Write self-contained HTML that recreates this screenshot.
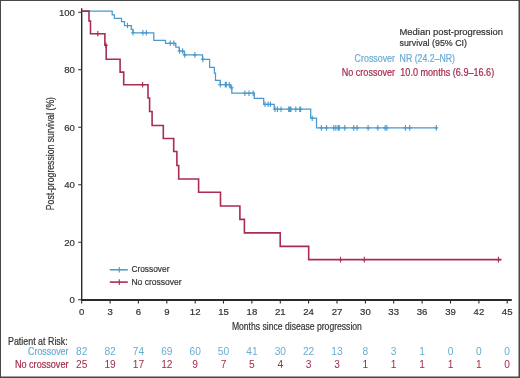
<!DOCTYPE html>
<html><head><meta charset="utf-8"><style>
html,body{margin:0;padding:0;background:#fff;overflow:hidden;width:520px;height:378px;}
svg{display:block;font-family:"Liberation Sans", sans-serif;will-change:transform;}
</style></head><body>
<svg width="520" height="378" viewBox="0 0 520 378" font-family='"Liberation Sans", sans-serif'>
<rect x="0" y="0" width="520" height="378" fill="#fff"/>
<path d="M81.7,8.2 V300.6" stroke="#2b2b2b" stroke-width="1.4" fill="none"/>
<path d="M81.0,300 H511.8" stroke="#2a2a2a" stroke-width="1.8" fill="none"/>
<path d="M78.2,299.8H81.7M78.2,242.3H81.7M78.2,184.8H81.7M78.2,127.3H81.7M78.2,69.8H81.7M78.2,12.3H81.7" stroke="#2b2b2b" stroke-width="1.1" fill="none"/>
<path d="M81.7,300V303.5M110.1,300V303.5M138.4,300V303.5M166.8,300V303.5M195.2,300V303.5M223.5,300V303.5M251.9,300V303.5M280.3,300V303.5M308.6,300V303.5M337.0,300V303.5M365.4,300V303.5M393.7,300V303.5M422.1,300V303.5M450.5,300V303.5M478.9,300V303.5M507.2,300V303.5" stroke="#2b2b2b" stroke-width="1.1" fill="none"/>
<text x="74.9" y="303.1" text-anchor="end" font-size="9.6" fill="#333333" stroke="#333333" stroke-width="0.2">0</text>
<text x="74.9" y="245.6" text-anchor="end" font-size="9.6" fill="#333333" stroke="#333333" stroke-width="0.2">20</text>
<text x="74.9" y="188.1" text-anchor="end" font-size="9.6" fill="#333333" stroke="#333333" stroke-width="0.2">40</text>
<text x="74.9" y="130.6" text-anchor="end" font-size="9.6" fill="#333333" stroke="#333333" stroke-width="0.2">60</text>
<text x="74.9" y="73.1" text-anchor="end" font-size="9.6" fill="#333333" stroke="#333333" stroke-width="0.2">80</text>
<text x="74.9" y="15.6" text-anchor="end" font-size="9.6" fill="#333333" stroke="#333333" stroke-width="0.2">100</text>
<text x="81.7" y="315.0" text-anchor="middle" font-size="9.6" fill="#333333" stroke="#333333" stroke-width="0.2">0</text>
<text x="110.1" y="315.0" text-anchor="middle" font-size="9.6" fill="#333333" stroke="#333333" stroke-width="0.2">3</text>
<text x="138.4" y="315.0" text-anchor="middle" font-size="9.6" fill="#333333" stroke="#333333" stroke-width="0.2">6</text>
<text x="166.8" y="315.0" text-anchor="middle" font-size="9.6" fill="#333333" stroke="#333333" stroke-width="0.2">9</text>
<text x="195.2" y="315.0" text-anchor="middle" font-size="9.6" fill="#333333" stroke="#333333" stroke-width="0.2">12</text>
<text x="223.5" y="315.0" text-anchor="middle" font-size="9.6" fill="#333333" stroke="#333333" stroke-width="0.2">15</text>
<text x="251.9" y="315.0" text-anchor="middle" font-size="9.6" fill="#333333" stroke="#333333" stroke-width="0.2">18</text>
<text x="280.3" y="315.0" text-anchor="middle" font-size="9.6" fill="#333333" stroke="#333333" stroke-width="0.2">21</text>
<text x="308.6" y="315.0" text-anchor="middle" font-size="9.6" fill="#333333" stroke="#333333" stroke-width="0.2">24</text>
<text x="337.0" y="315.0" text-anchor="middle" font-size="9.6" fill="#333333" stroke="#333333" stroke-width="0.2">27</text>
<text x="365.4" y="315.0" text-anchor="middle" font-size="9.6" fill="#333333" stroke="#333333" stroke-width="0.2">30</text>
<text x="393.7" y="315.0" text-anchor="middle" font-size="9.6" fill="#333333" stroke="#333333" stroke-width="0.2">33</text>
<text x="422.1" y="315.0" text-anchor="middle" font-size="9.6" fill="#333333" stroke="#333333" stroke-width="0.2">36</text>
<text x="450.5" y="315.0" text-anchor="middle" font-size="9.6" fill="#333333" stroke="#333333" stroke-width="0.2">39</text>
<text x="478.9" y="315.0" text-anchor="middle" font-size="9.6" fill="#333333" stroke="#333333" stroke-width="0.2">42</text>
<text x="507.2" y="315.0" text-anchor="middle" font-size="9.6" fill="#333333" stroke="#333333" stroke-width="0.2">45</text>
<text x="231.9" y="330.1" font-size="10.5" fill="#333333" stroke="#333333" stroke-width="0.2" textLength="130" lengthAdjust="spacingAndGlyphs">Months since disease progression</text>
<text transform="translate(53.9,210.2) rotate(-90)" x="0" y="0" font-size="10" fill="#333333" stroke="#333333" stroke-width="0.2" textLength="113.2" lengthAdjust="spacingAndGlyphs">Post-progression survival (%)</text>
<path d="M81.7,11.1 H112.2 V14.9 H114.4 V18.3 H121.5 V21.7 H124.5 V25.5 H131.3 V29.3 H133 V32.8 H153.8 V40.3 H165.5 V43.3 H175.8 V47.1 H179.2 V51 H184.3 V54.9 H202.5 V59.4 H209.6 V67.4 H214.4 V73 H215.5 V80.4 H220.3 V84.6 H230.3 V87.8 H231.8 V93.2 H254.3 V98.4 H263.7 V104.3 H274.2 V109.2 H310.7 V118.2 H316.5 V127.9 H437" stroke="#4899cd" stroke-width="1.25" fill="none"/>
<path d="M127.5,22.7V28.3M125.5,25.5H129.5 M133.0,30.0V35.6M131.0,32.8H135.0 M142.9,30.0V35.6M140.9,32.8H144.9 M146.3,30.0V35.6M144.3,32.8H148.3 M170.2,40.5V46.1M168.2,43.3H172.2 M173.9,40.5V46.1M171.9,43.3H175.9 M179.5,48.2V53.8M177.5,51.0H181.5 M182.6,48.2V53.8M180.6,51.0H184.6 M184.7,52.1V57.7M182.7,54.9H186.7 M194.9,52.1V57.7M192.9,54.9H196.9 M202.9,56.6V62.2M200.9,59.4H204.9 M220.3,81.8V87.4M218.3,84.6H222.3 M225.3,81.8V87.4M223.3,84.6H227.3 M226.3,81.8V87.4M224.3,84.6H228.3 M229.3,81.8V87.4M227.3,84.6H231.3 M231.7,85.0V90.6M229.7,87.8H233.7 M244.9,90.4V96.0M242.9,93.2H246.9 M249.0,90.4V96.0M247.0,93.2H251.0 M253.2,90.4V96.0M251.2,93.2H255.2 M265.0,101.5V107.1M263.0,104.3H267.0 M268.1,101.5V107.1M266.1,104.3H270.1 M270.4,101.5V107.1M268.4,104.3H272.4 M275.0,106.4V112.0M273.0,109.2H277.0 M277.4,106.4V112.0M275.4,109.2H279.4 M281.0,106.4V112.0M279.0,109.2H283.0 M288.7,106.4V112.0M286.7,109.2H290.7 M289.8,106.4V112.0M287.8,109.2H291.8 M290.9,106.4V112.0M288.9,109.2H292.9 M295.8,106.4V112.0M293.8,109.2H297.8 M299.8,106.4V112.0M297.8,109.2H301.8 M300.6,106.4V112.0M298.6,109.2H302.6 M312.2,115.4V121.0M310.2,118.2H314.2 M321.3,125.1V130.7M319.3,127.9H323.3 M326.5,125.1V130.7M324.5,127.9H328.5 M333.8,125.1V130.7M331.8,127.9H335.8 M335.8,125.1V130.7M333.8,127.9H337.8 M338.1,125.1V130.7M336.1,127.9H340.1 M339.2,125.1V130.7M337.2,127.9H341.2 M344.8,125.1V130.7M342.8,127.9H346.8 M353.7,125.1V130.7M351.7,127.9H355.7 M357.1,125.1V130.7M355.1,127.9H359.1 M368.1,125.1V130.7M366.1,127.9H370.1 M377.8,125.1V130.7M375.8,127.9H379.8 M385.1,125.1V130.7M383.1,127.9H387.1 M386.8,125.1V130.7M384.8,127.9H388.8 M405.4,125.1V130.7M403.4,127.9H407.4 M409.7,125.1V130.7M407.7,127.9H411.7 M436.3,125.1V130.7M434.3,127.9H438.3" stroke="#4899cd" stroke-width="1.1" fill="none"/>
<path d="M81.7,11.1 H89 V21 H90.5 V33.8 H104.9 V45.2 H106.2 V59.2 H120.1 V72.1 H123.7 V84.7 H148 V98 H149.6 V111.5 H152.1 V125.5 H163.3 V138.5 H173.7 V151.5 H176.9 V165.5 H178.7 V179 H198.6 V192.2 H220.5 V206 H239.9 V219.4 H244.4 V232.9 H280.2 V246.4 H308.7 V259.6 H501.5" stroke="#a92d4f" stroke-width="1.6" fill="none"/>
<path d="M97.8,31.0V36.6M95.8,33.8H99.8 M105.9,42.4V48.0M103.9,45.2H107.9 M142.6,81.9V87.5M140.6,84.7H144.6 M340.5,256.8V262.4M338.5,259.6H342.5 M364.3,256.8V262.4M362.3,259.6H366.3 M498.5,256.8V262.4M496.5,259.6H500.5" stroke="#a92d4f" stroke-width="1.1" fill="none"/>
<path d="M109.8,269.8H127.8" stroke="#4899cd" stroke-width="1.5"/><path d="M119.3,267.0V272.6" stroke="#4899cd" stroke-width="1.1"/>
<path d="M109.8,282.1H127.8" stroke="#a92d4f" stroke-width="1.6"/><path d="M119.3,279.3V284.90000000000003" stroke="#a92d4f" stroke-width="1.1"/>
<text x="131.4" y="272.4" font-size="9.5" fill="#333333" stroke="#333333" stroke-width="0.2" textLength="38.1" lengthAdjust="spacingAndGlyphs">Crossover</text>
<text x="131.4" y="284.7" font-size="9.5" fill="#333333" stroke="#333333" stroke-width="0.2" textLength="50.3" lengthAdjust="spacingAndGlyphs">No crossover</text>
<text x="399.5" y="35.4" font-size="9.7" fill="#333333" stroke="#333333" stroke-width="0.2" textLength="103.6" lengthAdjust="spacingAndGlyphs">Median post-progression</text>
<text x="399.5" y="45.6" font-size="9.7" fill="#333333" stroke="#333333" stroke-width="0.2" textLength="67.5" lengthAdjust="spacingAndGlyphs">survival (95% CI)</text>
<text x="395" y="62.4" font-size="10" text-anchor="end" fill="#68acd2" stroke="#68acd2" stroke-width="0.2" textLength="40.4" lengthAdjust="spacingAndGlyphs">Crossover</text>
<text x="399.6" y="62.4" font-size="10" fill="#68acd2" stroke="#68acd2" stroke-width="0.2" textLength="55.4" lengthAdjust="spacingAndGlyphs">NR (24.2–NR)</text>
<text x="395" y="75.7" font-size="10" text-anchor="end" fill="#a6294a" stroke="#a6294a" stroke-width="0.2" textLength="53.2" lengthAdjust="spacingAndGlyphs">No crossover</text>
<text x="400.3" y="75.7" font-size="10" fill="#a6294a" stroke="#a6294a" stroke-width="0.2" textLength="93.9" lengthAdjust="spacingAndGlyphs">10.0 months (6.9–16.6)</text>
<text x="8" y="344.7" font-size="10.2" fill="#333333" stroke="#333333" stroke-width="0.2" textLength="59.7" lengthAdjust="spacingAndGlyphs">Patient at Risk:</text>
<text x="68.5" y="354.5" font-size="10.2" text-anchor="end" fill="#68acd2" stroke="#68acd2" stroke-width="0.2" textLength="40.5" lengthAdjust="spacingAndGlyphs">Crossover</text>
<text x="68.5" y="368.1" font-size="10.2" text-anchor="end" fill="#a6294a" stroke="#a6294a" stroke-width="0.2" textLength="53.6" lengthAdjust="spacingAndGlyphs">No crossover</text>
<text x="81.7" y="354.7" text-anchor="middle" font-size="10.2" fill="#68acd2">82</text>
<text x="81.7" y="368.0" text-anchor="middle" font-size="10.2" fill="#a6294a">25</text>
<text x="110.1" y="354.7" text-anchor="middle" font-size="10.2" fill="#68acd2">82</text>
<text x="110.1" y="368.0" text-anchor="middle" font-size="10.2" fill="#a6294a">19</text>
<text x="138.4" y="354.7" text-anchor="middle" font-size="10.2" fill="#68acd2">74</text>
<text x="138.4" y="368.0" text-anchor="middle" font-size="10.2" fill="#a6294a">17</text>
<text x="166.8" y="354.7" text-anchor="middle" font-size="10.2" fill="#68acd2">69</text>
<text x="166.8" y="368.0" text-anchor="middle" font-size="10.2" fill="#a6294a">12</text>
<text x="195.2" y="354.7" text-anchor="middle" font-size="10.2" fill="#68acd2">60</text>
<text x="195.2" y="368.0" text-anchor="middle" font-size="10.2" fill="#a6294a">9</text>
<text x="223.5" y="354.7" text-anchor="middle" font-size="10.2" fill="#68acd2">50</text>
<text x="223.5" y="368.0" text-anchor="middle" font-size="10.2" fill="#a6294a">7</text>
<text x="251.9" y="354.7" text-anchor="middle" font-size="10.2" fill="#68acd2">41</text>
<text x="251.9" y="368.0" text-anchor="middle" font-size="10.2" fill="#a6294a">5</text>
<text x="280.3" y="354.7" text-anchor="middle" font-size="10.2" fill="#68acd2">30</text>
<text x="280.3" y="368.0" text-anchor="middle" font-size="10.2" fill="#a6294a">4</text>
<text x="308.6" y="354.7" text-anchor="middle" font-size="10.2" fill="#68acd2">22</text>
<text x="308.6" y="368.0" text-anchor="middle" font-size="10.2" fill="#a6294a">3</text>
<text x="337.0" y="354.7" text-anchor="middle" font-size="10.2" fill="#68acd2">13</text>
<text x="337.0" y="368.0" text-anchor="middle" font-size="10.2" fill="#a6294a">3</text>
<text x="365.4" y="354.7" text-anchor="middle" font-size="10.2" fill="#68acd2">8</text>
<text x="365.4" y="368.0" text-anchor="middle" font-size="10.2" fill="#a6294a">1</text>
<text x="393.7" y="354.7" text-anchor="middle" font-size="10.2" fill="#68acd2">3</text>
<text x="393.7" y="368.0" text-anchor="middle" font-size="10.2" fill="#a6294a">1</text>
<text x="422.1" y="354.7" text-anchor="middle" font-size="10.2" fill="#68acd2">1</text>
<text x="422.1" y="368.0" text-anchor="middle" font-size="10.2" fill="#a6294a">1</text>
<text x="450.5" y="354.7" text-anchor="middle" font-size="10.2" fill="#68acd2">0</text>
<text x="450.5" y="368.0" text-anchor="middle" font-size="10.2" fill="#a6294a">1</text>
<text x="478.9" y="354.7" text-anchor="middle" font-size="10.2" fill="#68acd2">0</text>
<text x="478.9" y="368.0" text-anchor="middle" font-size="10.2" fill="#a6294a">1</text>
<text x="507.2" y="354.7" text-anchor="middle" font-size="10.2" fill="#68acd2">0</text>
<text x="507.2" y="368.0" text-anchor="middle" font-size="10.2" fill="#a6294a">0</text>
<path d="M0,0.5H520M0.5,0V378" stroke="#474747" stroke-width="1"/>
<path d="M519.25,0V378M0,377.25H520" stroke="#474747" stroke-width="1.5"/>
</svg>
</body></html>
